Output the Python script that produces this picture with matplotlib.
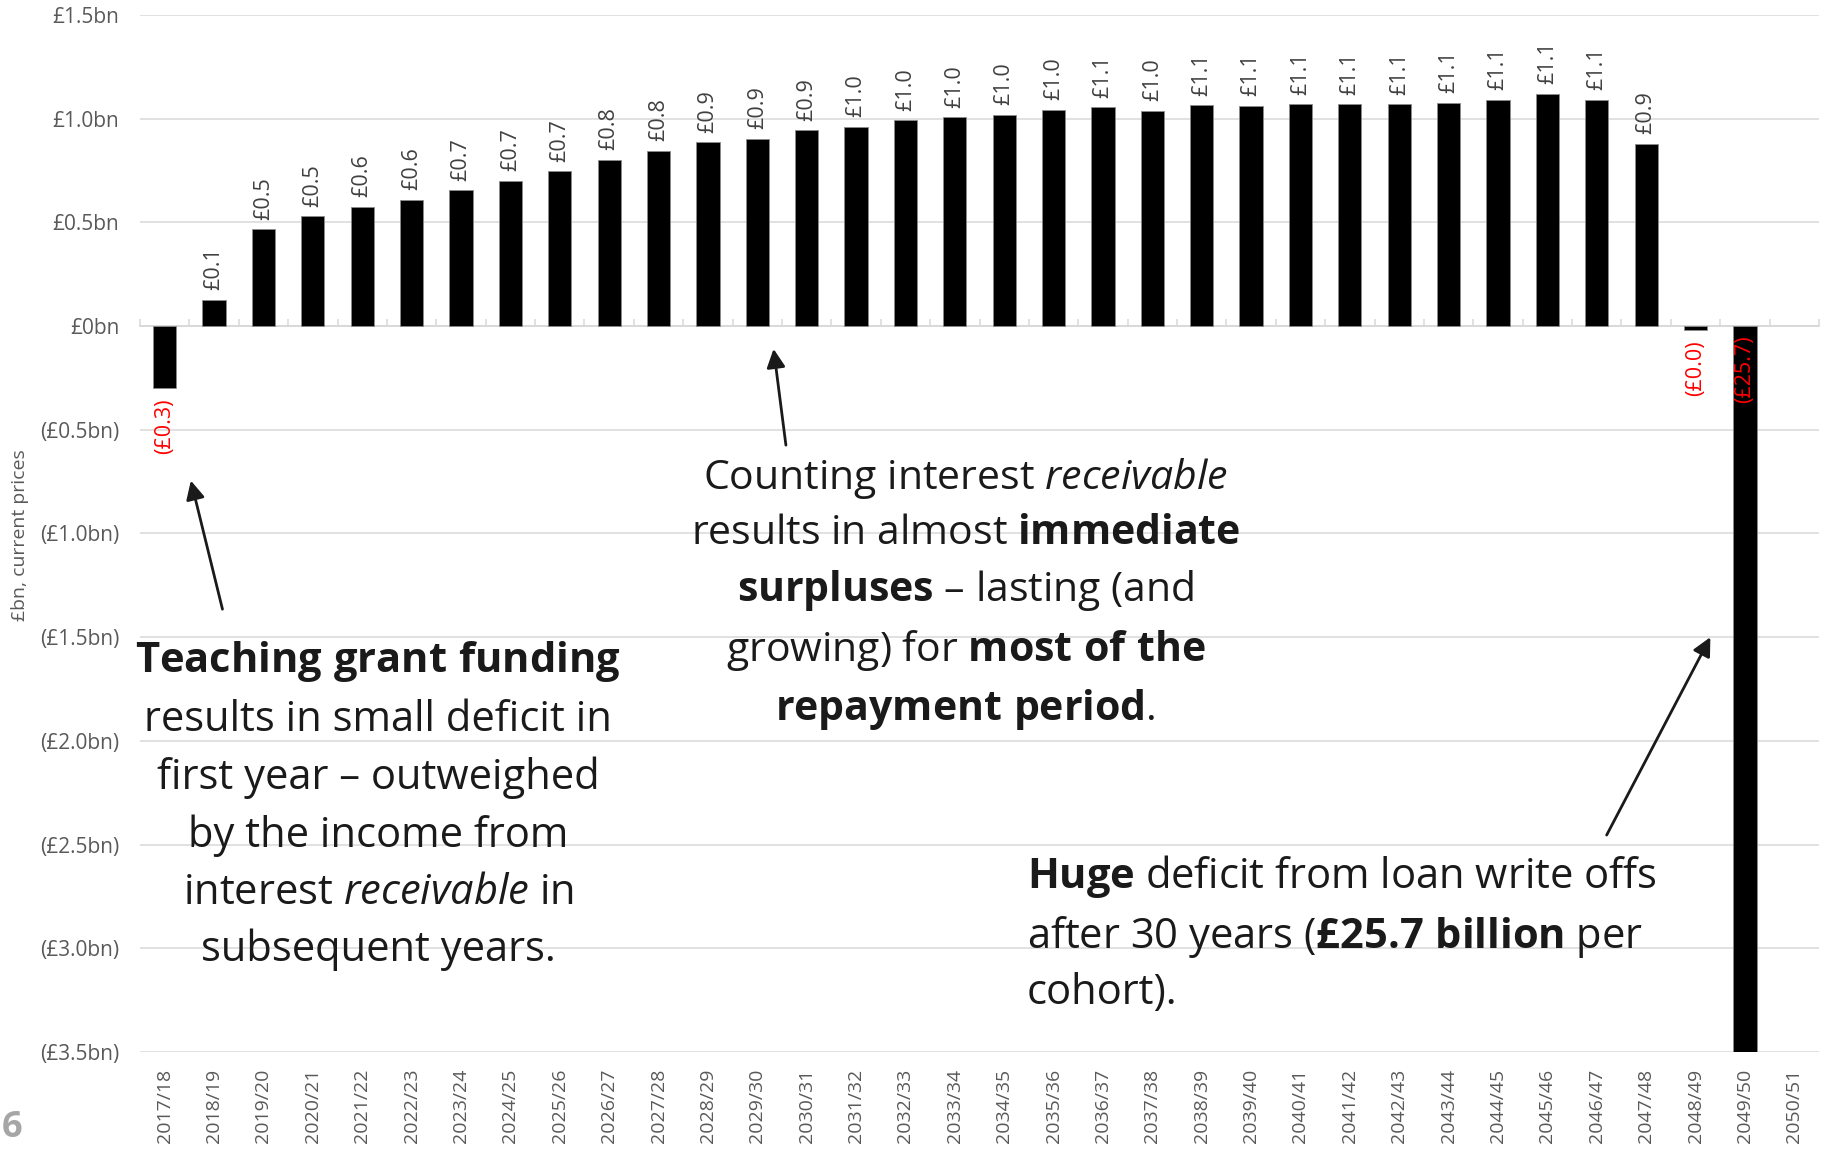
import numpy as np
import matplotlib
matplotlib.use("Agg")
import matplotlib.pyplot as plt

# Fonts: Open Sans for everything, also inside mathtext so bold / italic words mix in a line
plt.rcParams['font.family'] = 'Open Sans'
plt.rcParams['mathtext.fontset'] = 'custom'
plt.rcParams['mathtext.rm'] = 'Open Sans'
plt.rcParams['mathtext.bf'] = 'Open Sans:bold'
plt.rcParams['mathtext.it'] = 'Open Sans:italic'

# Data: net position per year for one cohort, £bn current prices
years = ['2017/18', '2018/19', '2019/20', '2020/21', '2021/22', '2022/23', '2023/24',
         '2024/25', '2025/26', '2026/27', '2027/28', '2028/29', '2029/30', '2030/31',
         '2031/32', '2032/33', '2033/34', '2034/35', '2035/36', '2036/37', '2037/38',
         '2038/39', '2039/40', '2040/41', '2041/42', '2042/43', '2043/44', '2044/45',
         '2045/46', '2046/47', '2047/48', '2048/49', '2049/50', '2050/51']
values = [-0.30, 0.127, 0.466, 0.529, 0.574, 0.608, 0.654, 0.701, 0.746, 0.800,
          0.844, 0.886, 0.904, 0.944, 0.960, 0.992, 1.006, 1.019, 1.042, 1.055,
          1.039, 1.064, 1.061, 1.069, 1.069, 1.069, 1.077, 1.090, 1.121, 1.092,
          0.878, -0.02, -25.7, np.nan]
y_ticks = [1.5, 1.0, 0.5, 0.0, -0.5, -1.0, -1.5, -2.0, -2.5, -3.0, -3.5]
y_tick_labels = ['£1.5bn', '£1.0bn', '£0.5bn', '£0bn', '(£0.5bn)', '(£1.0bn)', '(£1.5bn)',
                 '(£2.0bn)', '(£2.5bn)', '(£3.0bn)', '(£3.5bn)']

GRID = '#d9d9d9'
GREY = '#595959'

fig = plt.figure(figsize=(18.25, 11.52), dpi=100)
ax = fig.add_axes([140 / 1825, 1 - 1052 / 1152, 1679 / 1825, 1037 / 1152])

x = np.arange(len(years))
ax.bar(x, values, width=0.47, color='black', edgecolor='#8c8c8c', linewidth=0.6, zorder=3)

ax.set_xlim(-0.5, len(years) - 0.5)
ax.set_ylim(min(y_ticks), max(y_ticks))
ylo, yhi = ax.get_ylim()

# gridlines and y labels
ax.set_yticks(y_ticks)
ax.set_yticklabels(y_tick_labels)
ax.tick_params(axis='y', length=0, pad=15, labelsize=15, labelcolor=GREY)
ax.yaxis.grid(True, color=GRID, linewidth=1.1)
ax.set_axisbelow(True)
for s in ['left', 'right', 'top']:
    ax.spines[s].set_visible(False)

# the zero line with small tick marks between categories
ax.spines['bottom'].set_position(('data', 0))
ax.spines['bottom'].set_color(GRID)
ax.spines['bottom'].set_linewidth(1.3)
ax.spines['bottom'].set_zorder(2)
ax.set_xticks(x)
ax.set_xticks(np.arange(len(years) + 1) - 0.5, minor=True)
ax.tick_params(axis='x', which='major', length=0, labelbottom=False)
ax.tick_params(axis='x', which='minor', direction='in', length=5, width=1.1, color=GRID)

# category labels at the bottom of the chart
sec = ax.secondary_xaxis('bottom')
sec.set_xticks(x, labels=years)
sec.tick_params(length=0, pad=12, labelsize=14, labelcolor=GREY, labelrotation=90)
sec.spines['bottom'].set_visible(False)

# value labels
for i, v in enumerate(values):
    if np.isnan(v):
        continue
    if v >= 0:
        ax.annotate('£%.1f' % v, (i, v), xytext=(0, 7), textcoords='offset points',
                    rotation=90, ha='center', va='bottom', fontsize=15.5, color='#404040')
    else:
        yy = v if v > ylo else 0
        ax.annotate('(£%.1f)' % abs(v), (i, yy), xytext=(0, -7), textcoords='offset points',
                    rotation=90, ha='center', va='top', fontsize=15.5, color='red', zorder=5)

# commentary
left_txt = ("$\\mathbf{Teaching\\ grant\\ funding}$\n"
            "results in small deficit in\n"
            "first year – outweighed\n"
            "by the income from\n"
            "interest $\\mathit{receivable}$ in\n"
            "subsequent years.")
mid_txt = ("Counting interest $\\mathit{receivable}$\n"
           "results in almost $\\mathbf{immediate}$\n"
           "$\\mathbf{surpluses}$ – lasting (and\n"
           "growing) for $\\mathbf{most\\ of\\ the}$\n"
           "$\\mathbf{repayment\\ period}$.")
right_txt = ("$\\mathbf{Huge}$ deficit from loan write offs\n"
             "after 30 years ($\\mathbf{£25.7\\ billion}$ per\n"
             "cohort).")

arrow = dict(arrowstyle='-|>', color='#1a1a1a', lw=2, mutation_scale=28, shrinkA=0, shrinkB=0)
ax.annotate('', xy=(0.53, -0.745), xytext=(1.17, -1.365), arrowprops=arrow)
ax.annotate('', xy=(12.33, -0.11), xytext=(12.58, -0.574), arrowprops=arrow)
ax.annotate('', xy=(31.3, -1.50), xytext=(29.2, -2.454), arrowprops=arrow)

ax.text(4.32, -2.31, left_txt, ha='center', va='center', multialignment='center',
        fontsize=30, color='#1a1a1a', linespacing=1.47, zorder=6)
ax.text(16.22, -1.29, mid_txt, ha='center', va='center', multialignment='center',
        fontsize=29.5, color='#1a1a1a', linespacing=1.43, zorder=6)
ax.text(17.46, -2.93, right_txt, ha='left', va='center', multialignment='left',
        fontsize=30, color='#1a1a1a', linespacing=1.39, zorder=6)

# axis title and page number
fig.text(20 / 1825, 1 - 535 / 1152, '£bn, current prices', rotation=90, ha='center',
         va='center', fontsize=14, color=GREY)
fig.text(2 / 1825, 1 - 1128 / 1152, '6', ha='left', va='center', fontsize=26,
         fontweight='bold', color='#a6a6a6')

fig.savefig('out.png', dpi=100)
